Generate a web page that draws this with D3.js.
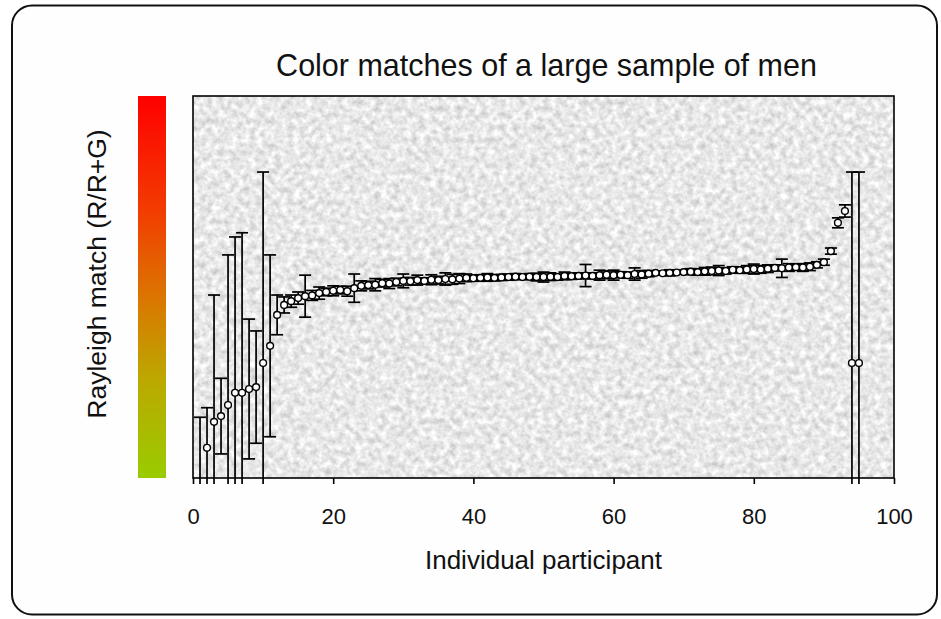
<!DOCTYPE html>
<html>
<head>
<meta charset="utf-8">
<script src="https://cdn.jsdelivr.net/npm/d3@7/dist/d3.min.js"></script>
<style>
  body { margin: 0; background: #ffffff; }
  text { font-family: "Liberation Sans", Arial, sans-serif; fill: #111; }
</style>
</head>
<body>
<div id="chart"></div>
<script>
// mean Rayleigh match per participant (R/(R+G)), sorted as in the original figure
var matchMeans = [
  -0.045, 0.079, 0.147, 0.162, 0.191, 0.223, 0.223, 0.233, 0.238, 0.301,
  0.346, 0.427, 0.453, 0.463, 0.471, 0.476, 0.478, 0.484, 0.487, 0.490,
  0.492, 0.489, 0.497, 0.503, 0.505, 0.506, 0.510, 0.509, 0.513, 0.516,
  0.515, 0.518, 0.516, 0.519, 0.518, 0.521, 0.520, 0.522, 0.524, 0.523,
  0.524, 0.525, 0.524, 0.525, 0.526, 0.527, 0.526, 0.527, 0.526, 0.526,
  0.527, 0.526, 0.529, 0.528, 0.529, 0.530, 0.529, 0.531, 0.532, 0.531,
  0.532, 0.531, 0.534, 0.533, 0.535, 0.537, 0.536, 0.537, 0.538, 0.539,
  0.540, 0.539, 0.541, 0.542, 0.543, 0.542, 0.545, 0.544, 0.546, 0.547,
  0.546, 0.548, 0.550, 0.549, 0.551, 0.552, 0.551, 0.553, 0.558, 0.565,
  0.594, 0.668, 0.699, 0.301, 0.301
];

// +/- error (same units)
var matchErrors = [
  0.204, 0.105, 0.332, 0.099, 0.393, 0.408, 0.419, 0.183, 0.147, 0.500,
  0.238, 0.052, 0.021, 0.016, 0.016, 0.055, 0.013, 0.016, 0.010, 0.013,
  0.010, 0.013, 0.037, 0.013, 0.010, 0.016, 0.010, 0.013, 0.010, 0.018,
  0.010, 0.013, 0.008, 0.013, 0.010, 0.016, 0.013, 0.013, 0.010, 0.008,
  0.008, 0.010, 0.008, 0.008, 0.008, 0.008, 0.005, 0.008, 0.010, 0.013,
  0.010, 0.008, 0.010, 0.008, 0.008, 0.029, 0.008, 0.013, 0.010, 0.013,
  0.008, 0.008, 0.016, 0.010, 0.008, 0.005, 0.005, 0.008, 0.005, 0.005,
  0.008, 0.008, 0.010, 0.010, 0.013, 0.008, 0.008, 0.008, 0.010, 0.013,
  0.010, 0.010, 0.008, 0.024, 0.010, 0.008, 0.010, 0.010, 0.008, 0.008,
  0.008, 0.013, 0.016, 0.500, 0.500
];

var xTicks = [0, 20, 40, 60, 80, 100];

var width = 941,
    height = 619;

var plot = {left: 193, right: 894, top: 96, bottom: 478};

var data = matchMeans.map(function(m, i) {
  return {participant: i + 1, mean: m, err: matchErrors[i]};
});

var svg = d3.select("#chart")
    .append("svg")
    .attr("width", width)
    .attr("height", height);

var defs = svg.append("defs");

// granite-like fill of the plot area
var filter = defs.append("filter")
    .attr("id", "granite")
    .attr("x", 0).attr("y", 0).attr("width", 1).attr("height", 1)
    .attr("color-interpolation-filters", "sRGB");
filter.append("feTurbulence")
    .attr("type", "fractalNoise")
    .attr("baseFrequency", 0.16)
    .attr("numOctaves", 3)
    .attr("seed", 7);
filter.append("feColorMatrix")
    .attr("type", "matrix")
    .attr("values", "0.34 0 0 0 0.74  0.34 0 0 0 0.74  0.34 0 0 0 0.74  0 0 0 0 1");

var grad = defs.append("linearGradient")
    .attr("id", "redgreen")
    .attr("x1", 0).attr("y1", 0).attr("x2", 0).attr("y2", 1);
grad.append("stop").attr("offset", "0%").attr("stop-color", "#ff0000");
grad.append("stop").attr("offset", "30%").attr("stop-color", "#f23c00");
grad.append("stop").attr("offset", "52%").attr("stop-color", "#dc7400");
grad.append("stop").attr("offset", "74%").attr("stop-color", "#bca800");
grad.append("stop").attr("offset", "100%").attr("stop-color", "#99cc00");

defs.append("clipPath")
    .attr("id", "plotclip")
  .append("rect")
    .attr("x", plot.left)
    .attr("y", plot.top)
    .attr("width", plot.right - plot.left)
    .attr("height", plot.bottom - plot.top + 6);

// outer frame
svg.append("rect")
    .attr("x", 12)
    .attr("y", 5.5)
    .attr("width", 925)
    .attr("height", 609)
    .attr("rx", 20)
    .style("fill", "#fefefe")
    .style("stroke", "#111")
    .style("stroke-width", 2);

var x = d3.scaleLinear()
    .domain([0, 100])
    .range([plot.left, plot.right]);

var y = d3.scaleLinear()
    .domain([0, 1])
    .range([plot.bottom, plot.top]);

// plot background
svg.append("rect")
    .attr("x", plot.left)
    .attr("y", plot.top)
    .attr("width", plot.right - plot.left)
    .attr("height", plot.bottom - plot.top)
    .attr("filter", "url(#granite)");

// colour key bar beside the y axis
svg.append("rect")
    .attr("x", 138)
    .attr("y", y(1))
    .attr("width", 28)
    .attr("height", y(0) - y(1))
    .style("fill", "url(#redgreen)");

var g = svg.append("g")
    .attr("clip-path", "url(#plotclip)");

var capW = 6;

var bars = g.selectAll(".errbar")
    .data(data)
    .enter().append("g")
      .attr("class", "errbar");

bars.append("line")
    .attr("x1", function(d) { return x(d.participant); })
    .attr("x2", function(d) { return x(d.participant); })
    .attr("y1", function(d) { return y(d.mean - d.err); })
    .attr("y2", function(d) { return y(d.mean + d.err); });

bars.append("line")
    .attr("x1", function(d) { return x(d.participant) - capW; })
    .attr("x2", function(d) { return x(d.participant) + capW; })
    .attr("y1", function(d) { return y(d.mean + d.err); })
    .attr("y2", function(d) { return y(d.mean + d.err); });

bars.append("line")
    .attr("x1", function(d) { return x(d.participant) - capW; })
    .attr("x2", function(d) { return x(d.participant) + capW; })
    .attr("y1", function(d) { return y(d.mean - d.err); })
    .attr("y2", function(d) { return y(d.mean - d.err); });

bars.selectAll("line")
    .style("stroke", "#000")
    .style("stroke-width", 1.7);

g.selectAll(".pt")
    .data(data)
  .enter().append("circle")
    .attr("class", "pt")
    .attr("cx", function(d) { return x(d.participant); })
    .attr("cy", function(d) { return y(d.mean); })
    .attr("r", 3.4)
    .style("fill", "#fff")
    .style("stroke", "#000")
    .style("stroke-width", 1.4);

// plot border
svg.append("rect")
    .attr("x", plot.left)
    .attr("y", plot.top)
    .attr("width", plot.right - plot.left)
    .attr("height", plot.bottom - plot.top)
    .style("fill", "none")
    .style("stroke", "#000")
    .style("stroke-width", 1.6);

var xAxis = svg.append("g")
    .attr("transform", "translate(0," + plot.bottom + ")")
    .call(d3.axisBottom(x).tickValues(xTicks).tickSize(6).tickPadding(24));

xAxis.select(".domain").remove();
xAxis.selectAll(".tick line").style("stroke", "#000").style("stroke-width", 1.6);
xAxis.selectAll(".tick text")
    .style("font-size", "22px")
    .style("font-family", "'Liberation Sans', Arial, sans-serif")
    .style("fill", "#111");

svg.append("text")
    .attr("x", (plot.left + plot.right) / 2 + 3)
    .attr("y", 76)
    .attr("text-anchor", "middle")
    .style("font-size", "30.5px")
    .text("Color matches of a large sample of men");

svg.append("text")
    .attr("x", (plot.left + plot.right) / 2)
    .attr("y", 569)
    .attr("text-anchor", "middle")
    .style("font-size", "26px")
    .text("Individual participant");

svg.append("text")
    .attr("transform", "translate(106,274) rotate(-90)")
    .attr("text-anchor", "middle")
    .style("font-size", "26.5px")
    .text("Rayleigh match (R/R+G)");
</script>
</body>
</html>
